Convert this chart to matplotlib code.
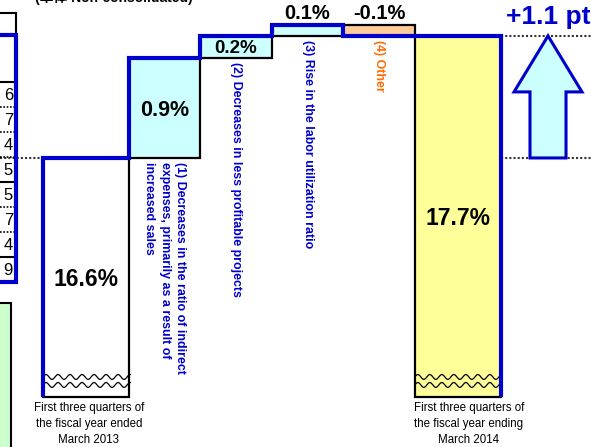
import numpy as np
import matplotlib
matplotlib.use('Agg')
import matplotlib.pyplot as plt
from matplotlib.patches import FancyArrow, Rectangle

plt.rcParams['font.family'] = ['Liberation Sans', 'Noto Sans CJK JP', 'DejaVu Sans']

BLUE = '#0000CC'
CYAN = '#CCFFFF'
ORANGE_FILL = '#FFCC99'
ORANGE_TEXT = '#FF6A00'
YELLOW = '#FFFF99'
GREEN = '#CCFFCC'

# data
start_label = 'First three quarters of\nthe fiscal year ended\nMarch 2013'
end_label = 'First three quarters of\nthe fiscal year ending\nMarch 2014'
factor_labels = ['(1) Decreases in the ratio of indirect\nexpenses, primarily as a result of\nincreased sales',
                 '(2) Decreases in less profitable projects',
                 '(3) Rise in the labor utilization ratio',
                 '(4) Other']
start_value = 16.6
end_value = 17.7
changes = [0.9, 0.2, 0.1, -0.1]
gain_text = '+1.1 pt'
table_digits = ['6', '7', '4', '5', '5', '7', '4', '9']
title_text = '(単体 Non-consolidated)'

base = 14.45          # where the broken axis cuts the bars
widths = [1.2, 1, 1, 1, 1, 1.2]
lefts = np.concatenate([[0], np.cumsum(widths)[:-1]])
centers = lefts + np.array(widths) / 2

fig = plt.figure(figsize=(5.91, 4.47), dpi=100)
ax = fig.add_axes([0, 0, 1, 1])
ax.set_xlim(-43 / 71.5, 548 / 71.5)
ax.set_ylim(13.996, 18.023)
ax.axis('off')

# start bar
ax.bar(lefts[0], start_value - base, width=widths[0], bottom=base, align='edge',
       facecolor='white', edgecolor='black', linewidth=1.6, zorder=2)

# change bars
running = start_value
for i, c in enumerate(changes):
    bottom = min(running, running + c)
    col = CYAN if c > 0 else ORANGE_FILL
    ax.bar(lefts[i + 1], abs(c), width=widths[i + 1], bottom=bottom, align='edge',
           facecolor=col, edgecolor='black', linewidth=1.6, zorder=2)
    if abs(c) >= 0.2:
        ax.text(centers[i + 1], bottom + abs(c) / 2, '%.1f%%' % c, ha='center',
                va='center_baseline', fontsize=15.5 if abs(c) > 0.5 else 13.5,
                fontweight='bold', zorder=5)
    else:
        ax.text(centers[i + 1], max(running, running + c) + 0.12, '%.1f%%' % c, ha='center',
                va='center_baseline', fontsize=14.5, fontweight='bold', zorder=5)
    tcol = BLUE if c > 0 else ORANGE_TEXT
    ax.text(centers[i + 1], bottom - 0.035, factor_labels[i], rotation=270, ha='center', va='top',
            multialignment='left', fontsize=8.9, fontweight='bold', color=tcol, linespacing=1.35,
            zorder=5)
    running += c

# end bar
ax.bar(lefts[5], end_value - base, width=widths[5], bottom=base, align='edge',
       facecolor=YELLOW, edgecolor='black', linewidth=1.6, zorder=2)

ax.text(centers[0], (start_value + base) / 2, '%.1f%%' % start_value, ha='center',
        va='center_baseline', fontsize=16.5, fontweight='bold', zorder=5)
ax.text(centers[5], (end_value + base) / 2, '%.1f%%' % end_value, ha='center',
        va='center_baseline', fontsize=16.5, fontweight='bold', zorder=5)

# blue running-total line
xs = [lefts[0], lefts[0]]
ys = [base, start_value]
run = start_value
for i, c in enumerate(changes):
    xs += [lefts[i + 1], lefts[i + 1]]
    ys += [run, run + c]
    run += c
right = lefts[5] + widths[5]
xs += [lefts[5], lefts[5], right, right]
ys += [run, end_value, end_value, base]
ax.plot(xs, ys, color=BLUE, linewidth=3, solid_joinstyle='miter', solid_capstyle='butt', zorder=4)

# wavy break marks
for k in [0, 5]:
    wx = np.linspace(lefts[k], lefts[k] + widths[k] + 0.02, 200)
    for wy in [14.627, 14.555]:
        ax.plot(wx, wy + 0.022 * np.sin((wx - lefts[k]) / 0.168 * 2 * np.pi), color='black',
                linewidth=0.9, zorder=3)

# dotted guide lines
x0, x1 = ax.get_xlim()
ax.plot([x0, lefts[0]], [start_value, start_value], color='#333333', linewidth=1.5,
        linestyle=(0, (1, 1)), zorder=1)
for v in [start_value, end_value]:
    ax.plot([right, x1], [v, v], color='#333333', linewidth=1.5, linestyle=(0, (1, 1)), zorder=1)

# arrow for the change
arr = FancyArrow(7.063, start_value, 0, end_value - start_value, width=0.504, head_width=0.95,
                 head_length=0.505, length_includes_head=True, facecolor=CYAN, edgecolor=BLUE,
                 linewidth=2.2, zorder=6)
ax.add_patch(arr)

# overlay in pixel coordinates for the surrounding decorations
ov = fig.add_axes([0, 0, 1, 1])
ov.set_xlim(0, 591)
ov.set_ylim(447, 0)
ov.axis('off')
ov.patch.set_alpha(0)

ov.text(506, 17, gain_text, ha='left', va='center', fontsize=19, fontweight='bold', color=BLUE)

ov.text(89, 402, start_label, ha='center', va='top', fontsize=8.3, linespacing=1.45)
ov.text(469, 402, end_label, ha='center', va='top', fontsize=8.3, linespacing=1.45)

ov.text(114, 2, title_text, ha='center', va='baseline', fontsize=10, fontweight='bold')

# partial table on the left
ov.plot([0, 16], [13, 13], color='black', linewidth=1.5)
ov.plot([16, 16], [13, 35], color='black', linewidth=1.5)
rows = [82 + 25 * i for i in range(9)]
for i, ry in enumerate(rows[:-1]):
    solid = i in (0, 4, 7)
    ov.plot([0, 16], [ry, ry], color='black', linewidth=1.5 if solid else 1.2,
            linestyle='-' if solid else (0, (1, 1)))
for i, d in enumerate(table_digits):
    ov.text(13, (rows[i] + rows[i + 1]) / 2 + 1, d, ha='right', va='center', fontsize=12)
ov.plot([0, 16, 16, 0], [35, 35, 282, 282], color=BLUE, linewidth=3, solid_joinstyle='miter')
ov.add_patch(Rectangle((-5, 303), 16, 150, facecolor=GREEN, edgecolor='black', linewidth=1.5))

fig.savefig('out.png', dpi=100)
